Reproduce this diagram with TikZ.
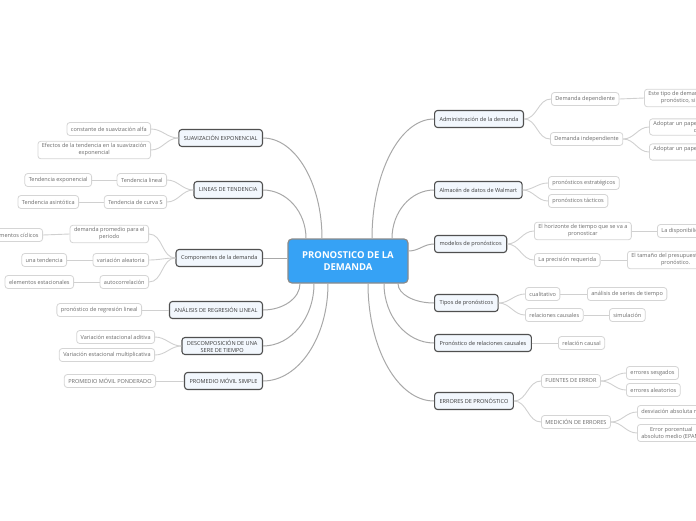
\documentclass[tikz,border=0pt]{standalone}
\usepackage{fontspec}
\setmainfont{Open Sans}
\usetikzlibrary{calc}
\definecolor{cfill}{HTML}{36A2F5}
\definecolor{cborder}{HTML}{8A8A8A}
\definecolor{mborder}{HTML}{505050}
\definecolor{mfill}{HTML}{F2F7FD}
\definecolor{mtext}{HTML}{3A3A3A}
\definecolor{sborder}{HTML}{D5D5D5}
\definecolor{stext}{HTML}{6A6A6A}
\definecolor{tcol}{HTML}{A8A8A8}
\definecolor{bcol}{HTML}{D0D0D0}
\begin{document}
\begin{tikzpicture}[x=1pt,y=-1pt,
  font=\fontsize{5.55}{7}\selectfont,
  hub/.style={draw=cborder, fill=cfill, rounded corners=4pt, line width=1.2pt, text=white,
    font=\fontsize{9.5}{12}\selectfont\bfseries, minimum width=120pt, minimum height=44pt, align=center},
  mainnode/.style={draw=mborder, fill=mfill, rounded corners=3pt, line width=1.1pt, text=mtext,
    minimum height=17pt, inner xsep=5pt, inner ysep=2pt, align=center},
  subnode/.style={draw=sborder, fill=white, rounded corners=3pt, line width=0.8pt, text=stext,
    minimum height=13pt, inner xsep=4pt, inner ysep=2.5pt, align=center},
  trunk/.style={draw=tcol, line width=1pt},
  branch/.style={draw=bcol, line width=0.9pt},
]
\useasboundingbox (0,0) rectangle (696,520);
\clip (0,0) rectangle (696,520);

% centre
\node[hub] (c) at (348,261) {PRONOSTICO DE LA\\DEMANDA};

% left main nodes
\node[mainnode, anchor=east] (l1) at (263,138) {SUAVIZACIÓN EXPONENCIAL};
\node[mainnode, anchor=east] (l2) at (263,190) {LINEAS DE TENDENCIA};
\node[mainnode, anchor=east] (l3) at (263,258) {Componentes de la demanda};
\node[mainnode, anchor=east] (l4) at (263,310) {ANÁLISIS DE REGRESIÓN LINEAL};
\node[mainnode, anchor=east] (l5) at (263,346) {DESCOMPOSICIÓN DE UNA\\SERE DE TIEMPO};
\node[mainnode, anchor=east] (l6) at (263,381) {PROMEDIO MÓVIL SIMPLE};

% right main nodes
\node[mainnode, anchor=west] (r1) at (434,119) {Administración de la demanda};
\node[mainnode, anchor=west] (r2) at (434,190) {Almacén de datos de Walmart};
\node[mainnode, anchor=west] (r3) at (434,244) {modelos de pronósticos};
\node[mainnode, anchor=west] (r4) at (434,303) {Tipos de pronósticos};
\node[mainnode, anchor=west] (r5) at (434,343) {Pronóstico de relaciones causales};
\node[mainnode, anchor=west] (r6) at (434,401) {ERRORES DE PRONÓSTICO};

% left sub nodes
\node[subnode, anchor=east] (l1a) at (151,129) {constante de suavización alfa};
\node[subnode, anchor=east] (l1b) at (151,150) {Efectos de la tendencia en la suavización\\exponencial};
\node[subnode, anchor=east] (l2a) at (167,180) {Tendencia lineal};
\node[subnode, anchor=east] (l2a1) at (92,180) {Tendencia exponencial};
\node[subnode, anchor=east] (l2b) at (167,202) {Tendencia de curva S};
\node[subnode, anchor=east] (l2b1) at (79,202) {Tendencia asintótica};
\node[subnode, anchor=east] (l3a) at (149,234) {demanda promedio para el\\periodo};
\node[subnode, anchor=east] (l3a1) at (43,235) {elementos cíclicos};
\node[subnode, anchor=east] (l3b) at (149,260) {variación aleatoria};
\node[subnode, anchor=east] (l3b1) at (67,260) {una tendencia};
\node[subnode, anchor=east] (l3c) at (149,282) {autocorrelación};
\node[subnode, anchor=east] (l3c1) at (74,282) {elementos estacionales};
\node[subnode, anchor=east] (l4a) at (142,310) {pronóstico de regresión lineal};
\node[subnode, anchor=east] (l5a) at (155,337) {Variación estacional aditiva};
\node[subnode, anchor=east] (l5b) at (155,355) {Variación estacional multiplicativa};
\node[subnode, anchor=east] (l6a) at (156,381) {PROMEDIO MÓVIL PONDERADO};

% right sub nodes
\node[subnode, anchor=west] (r1a) at (551,99) {Demanda dependiente};
\node[subnode, anchor=west] (r1a1) at (644,98) {Este tipo de demanda no requiere de un\\pronóstico, sino que se calcula};
\node[subnode, anchor=west] (r1b) at (550,139) {Demanda independiente};
\node[subnode, anchor=west] (r1b1) at (649,127) {Adoptar un papel activo para influir en la\\demanda};
\node[subnode, anchor=west] (r1b2) at (649,152) {Adoptar un papel pasivo y simplemente responder a la\\demanda};
\node[subnode, anchor=west] (r2a) at (548,183) {pronósticos estratégicos};
\node[subnode, anchor=west] (r2b) at (548,201) {pronósticos tácticos};
\node[subnode, anchor=west] (r3a) at (534,231) {El horizonte de tiempo que se va a\\pronosticar};
\node[subnode, anchor=west] (r3a1) at (657,231) {La disponibilidad de datos};
\node[subnode, anchor=west] (r3b) at (534,260) {La precisión requerida};
\node[subnode, anchor=west] (r3b1) at (627,260) {El tamaño del presupuesto para el\\pronóstico.};
\node[subnode, anchor=west] (r4a) at (525,294) {cualitativo};
\node[subnode, anchor=west] (r4a1) at (587,294) {análisis de series de tiempo};
\node[subnode, anchor=west] (r4b) at (525,315) {relaciones causales};
\node[subnode, anchor=west] (r4b1) at (609,315) {simulación};
\node[subnode, anchor=west] (r5a) at (558,343) {relación causal};
\node[subnode, anchor=west] (r6a) at (541,381) {FUENTES DE ERROR};
\node[subnode, anchor=west] (r6a1) at (626,373) {errores sesgados};
\node[subnode, anchor=west] (r6a2) at (626,390) {errores aleatorios};
\node[subnode, anchor=west] (r6b) at (541,422) {MEDICIÓN DE ERRORES};
\node[subnode, anchor=west] (r6b1) at (637,412) {desviación absoluta media (DAM)};
\node[subnode, anchor=west] (r6b2) at (637,433) {Error porcentual\\absoluto medio (EPAM)};

% trunk start points on the centre node
\coordinate (s1) at ([xshift=-26pt]c.north);
\coordinate (s2) at ([xshift=-42pt]c.north);
\coordinate (s4) at ([xshift=-48pt]c.south);
\coordinate (s5) at ([xshift=-34pt]c.south);
\coordinate (s6) at ([xshift=-20pt]c.south);
\coordinate (t1) at ([xshift=24pt]c.north);
\coordinate (t2) at ([xshift=44pt]c.north);
\coordinate (t3) at ([yshift=10pt]c.east);
\coordinate (t4) at ([xshift=50pt]c.south);
\coordinate (t5) at ([xshift=36pt]c.south);
\coordinate (t6) at ([xshift=20pt]c.south);

% trunks
\draw[trunk] (s1) .. controls ($(s1)!0.55!(s1 |- l1.east)$) and ($(l1.east)!0.55!(l1.east -| s1)$) .. (l1.east);
\draw[trunk] (s2) .. controls ($(s2)!0.55!(s2 |- l2.east)$) and ($(l2.east)!0.55!(l2.east -| s2)$) .. (l2.east);
\draw[trunk] (l3.east) -- (l3.east -| c.west);
\draw[trunk] (s4) .. controls ($(s4)!0.55!(s4 |- l4.east)$) and ($(l4.east)!0.55!(l4.east -| s4)$) .. (l4.east);
\draw[trunk] (s5) .. controls ($(s5)!0.55!(s5 |- l5.east)$) and ($(l5.east)!0.55!(l5.east -| s5)$) .. (l5.east);
\draw[trunk] (s6) .. controls ($(s6)!0.55!(s6 |- l6.east)$) and ($(l6.east)!0.55!(l6.east -| s6)$) .. (l6.east);
\draw[trunk] (t1) .. controls ($(t1)!0.55!(t1 |- r1.west)$) and ($(r1.west)!0.55!(r1.west -| t1)$) .. (r1.west);
\draw[trunk] (t2) .. controls ($(t2)!0.55!(t2 |- r2.west)$) and ($(r2.west)!0.55!(r2.west -| t2)$) .. (r2.west);
\draw[trunk] (t3) to[out=0,in=180] (r3.west);
\draw[trunk] (t4) .. controls ($(t4)!0.55!(t4 |- r4.west)$) and ($(r4.west)!0.55!(r4.west -| t4)$) .. (r4.west);
\draw[trunk] (t5) .. controls ($(t5)!0.55!(t5 |- r5.west)$) and ($(r5.west)!0.55!(r5.west -| t5)$) .. (r5.west);
\draw[trunk] (t6) .. controls ($(t6)!0.55!(t6 |- r6.west)$) and ($(r6.west)!0.55!(r6.west -| t6)$) .. (r6.west);

% left branches
\draw[branch] (l1.west) to[out=180,in=0] (l1a.east);
\draw[branch] (l1.west) to[out=180,in=0] (l1b.east);
\draw[branch] (l2.west) to[out=180,in=0] (l2a.east);
\draw[branch] (l2.west) to[out=180,in=0] (l2b.east);
\draw[branch] (l2a.west) -- (l2a1.east);
\draw[branch] (l2b.west) -- (l2b1.east);
\draw[branch] (l3.west) to[out=180,in=0] (l3a.east);
\draw[branch] (l3.west) to[out=180,in=0] (l3b.east);
\draw[branch] (l3.west) to[out=180,in=0] (l3c.east);
\draw[branch] (l3a.west) -- (l3a1.east);
\draw[branch] (l3b.west) -- (l3b1.east);
\draw[branch] (l3c.west) -- (l3c1.east);
\draw[branch] (l4.west) -- (l4a.east);
\draw[branch] (l5.west) to[out=180,in=0] (l5a.east);
\draw[branch] (l5.west) to[out=180,in=0] (l5b.east);
\draw[branch] (l6.west) -- (l6a.east);

% right branches
\draw[branch] (r1.east) to[out=0,in=180] (r1a.west);
\draw[branch] (r1.east) to[out=0,in=180] (r1b.west);
\draw[branch] (r1a.east) -- (r1a1.west);
\draw[branch] (r1b.east) to[out=0,in=180] (r1b1.west);
\draw[branch] (r1b.east) to[out=0,in=180] (r1b2.west);
\draw[branch] (r2.east) to[out=0,in=180] (r2a.west);
\draw[branch] (r2.east) to[out=0,in=180] (r2b.west);
\draw[branch] (r3.east) to[out=0,in=180] (r3a.west);
\draw[branch] (r3.east) to[out=0,in=180] (r3b.west);
\draw[branch] (r3a.east) -- (r3a1.west);
\draw[branch] (r3b.east) -- (r3b1.west);
\draw[branch] (r4.east) to[out=0,in=180] (r4a.west);
\draw[branch] (r4.east) to[out=0,in=180] (r4b.west);
\draw[branch] (r4a.east) -- (r4a1.west);
\draw[branch] (r4b.east) -- (r4b1.west);
\draw[branch] (r5.east) -- (r5a.west);
\draw[branch] (r6.east) to[out=0,in=180] (r6a.west);
\draw[branch] (r6.east) to[out=0,in=180] (r6b.west);
\draw[branch] (r6a.east) to[out=0,in=180] (r6a1.west);
\draw[branch] (r6a.east) to[out=0,in=180] (r6a2.west);
\draw[branch] (r6b.east) to[out=0,in=180] (r6b1.west);
\draw[branch] (r6b.east) to[out=0,in=180] (r6b2.west);
\end{tikzpicture}
\end{document}
